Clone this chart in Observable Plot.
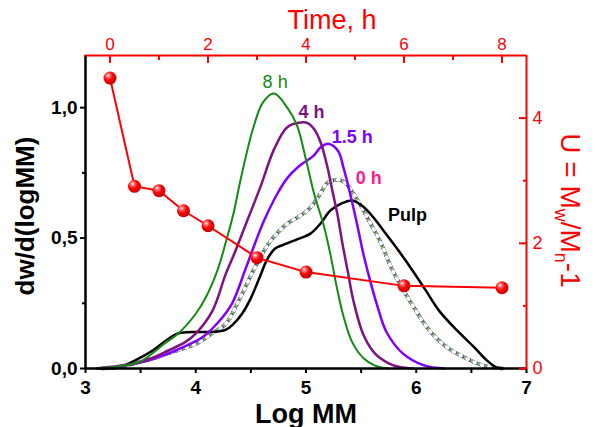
<!DOCTYPE html>
<html><head><meta charset="utf-8">
<script src="https://cdn.jsdelivr.net/npm/d3@7"></script>
<script src="https://cdn.jsdelivr.net/npm/@observablehq/plot@0.6"></script>
<style>
body{margin:0;background:#fff;}
#wrap{position:relative;width:596px;height:427px;font-family:"Liberation Sans",Arial,sans-serif;}
#wrap svg{position:absolute;left:0;top:0;}
</style></head><body><div id="wrap"></div>
<script>
// ---- distribution curves: Log MM vs dw/d(logMM)
const pulpMM = [3.12,3.30,3.45,3.61,3.73,3.84,4.00,4.15,4.27,4.34,4.42,4.50,4.58,4.65,4.72,4.80,4.95,5.04,5.13,5.22,5.31,5.42,5.52,5.61,5.70,5.79,5.91,6.07,6.21,6.37,6.52,6.64,6.73,6.78];
const pulpW  = [0,0.004,0.031,0.069,0.107,0.134,0.14,0.14,0.148,0.17,0.21,0.27,0.35,0.42,0.46,0.475,0.50,0.517,0.555,0.605,0.63,0.644,0.62,0.58,0.53,0.48,0.41,0.31,0.22,0.146,0.084,0.031,0.004,0];
const h0MM = [3.15,3.30,3.45,3.61,3.75,3.91,4.03,4.15,4.27,4.39,4.54,4.68,4.83,4.95,5.04,5.13,5.19,5.29,5.36,5.43,5.49,5.58,5.67,5.77,5.87,5.97,6.12,6.27,6.43,6.61,6.78];
const h0W  = [0,0.005,0.02,0.038,0.058,0.08,0.10,0.135,0.17,0.26,0.39,0.49,0.555,0.586,0.617,0.67,0.71,0.724,0.71,0.67,0.63,0.56,0.49,0.39,0.31,0.24,0.146,0.084,0.044,0.011,0];
const h15MM = [3.12,3.30,3.45,3.60,3.75,3.90,4.06,4.21,4.33,4.45,4.52,4.62,4.74,4.83,4.95,5.07,5.13,5.20,5.29,5.34,5.40,5.46,5.52,5.58,5.64,5.73,5.88,6.07,6.26];
const h15W  = [0,0.006,0.019,0.035,0.057,0.085,0.12,0.18,0.25,0.38,0.46,0.567,0.67,0.73,0.78,0.816,0.847,0.862,0.835,0.77,0.67,0.56,0.44,0.34,0.25,0.14,0.057,0.012,0];
const h4MM = [3.10,3.18,3.30,3.45,3.60,3.75,3.90,4.00,4.15,4.27,4.34,4.47,4.59,4.71,4.83,4.95,5.02,5.07,5.13,5.19,5.24,5.29,5.33,5.38,5.43,5.52,5.62,5.75,5.85,5.97];
const h4W  = [0,0.004,0.01,0.019,0.04,0.069,0.10,0.134,0.22,0.36,0.43,0.57,0.70,0.84,0.925,0.943,0.94,0.92,0.87,0.78,0.68,0.58,0.48,0.37,0.26,0.13,0.06,0.02,0.006,0];
const h8MM = [3.10,3.30,3.50,3.73,3.83,4.00,4.10,4.20,4.27,4.34,4.41,4.52,4.61,4.71,4.83,4.92,5.00,5.08,5.16,5.22,5.28,5.34,5.42,5.52,5.62,5.75];
const h8W  = [0,0.008,0.027,0.10,0.13,0.21,0.28,0.38,0.48,0.59,0.73,0.92,1.02,1.054,1.0,0.93,0.80,0.66,0.55,0.44,0.31,0.20,0.10,0.04,0.012,0];

// curve labels
const curveLabels = ["8 h","4 h","1.5 h","0 h","Pulp"];
const labelMM = [4.72,5.05,5.42,5.57,5.92];
const labelW  = [1.096,0.981,0.885,0.728,0.586];
const labelColors = ["#138a13","#7d1283","#8000ff","#ff1a8c","#000000"];
const labelBold = [false,true,true,true,true];

// ---- polydispersity vs time
const timeH = [0,0.5,1,1.5,2,3,4,6,8];
const uVals = [4.64,2.91,2.84,2.52,2.28,1.77,1.54,1.32,1.29];

// ticks
const mmTicks = [3,4,5,6,7], mmMinor = [3.5,4.5,5.5,6.5];
const wTicks = [0,0.5,1.0], wMinor = [0.25,0.75];
const tTicks = [0,2,4,6,8], tMinor = [1,3,5,7];
const uTicks = [0,2,4], uMinor = [1,3];

const W = 596, H = 427;
const margins = {marginTop: 55, marginRight: 70, marginBottom: 59, marginLeft: 85};
const font = "Liberation Sans, Arial, sans-serif";
const toRows = (xs, ys) => xs.map((x, i) => ({x, y: ys[i]}));
const fmtComma = d => d3.format(".1f")(d).replace(".", ",");

const pulp = toRows(pulpMM, pulpW), h0 = toRows(h0MM, h0W), h15 = toRows(h15MM, h15W), h4 = toRows(h4MM, h4W), h8 = toRows(h8MM, h8W);
const labels = curveLabels.map((t, i) => ({t, x: labelMM[i], y: labelW[i], c: labelColors[i], b: labelBold[i]}));
const curve = "catmull-rom";
const dotColors = ["#111111","#e0309a","#1ea0d0","#c8c020","#3050a0","#ffffff"];

const chart1 = Plot.plot({
  width: W, height: H, ...margins,
  style: {fontFamily: font, background: "transparent", overflow: "visible"},
  x: {domain: [3, 7]},
  y: {domain: [0, 1.2]},
  marks: [
    Plot.line(h0, {x: "x", y: "y", stroke: "#b8b8b8", strokeWidth: 3.5, curve}),
    ...dotColors.map((c, k) => Plot.line(h0, {x: "x", y: "y", stroke: c, strokeWidth: 3.5, strokeDasharray: "1.3,6.5", strokeDashoffset: k * 1.3, curve})),
    Plot.line(pulp, {x: "x", y: "y", stroke: "#000", strokeWidth: 2.5, curve}),
    Plot.line(h15, {x: "x", y: "y", stroke: "#8000ff", strokeWidth: 2.5, curve}),
    Plot.line(h4, {x: "x", y: "y", stroke: "#7d1283", strokeWidth: 2.5, curve}),
    Plot.line(h8, {x: "x", y: "y", stroke: "#138a13", strokeWidth: 2, curve}),
    Plot.text(labels.filter(d => !d.b), {x: "x", y: "y", text: "t", fill: "c", fontSize: 18, lineAnchor: "middle"}),
    Plot.text(labels.filter(d => d.b), {x: "x", y: "y", text: "t", fill: "c", fontSize: 18, fontWeight: "bold", lineAnchor: "middle"}),
    Plot.ruleX([3], {stroke: "#000", strokeWidth: 2.5}),
    Plot.ruleY([0], {stroke: "#000", strokeWidth: 2.5}),
    Plot.axisX(mmTicks, {label: null, tickSize: 5, tickPadding: 7, fontSize: 19, fontWeight: "bold", strokeWidth: 2, tickFormat: d3.format("d"), fill: "#000"}),
    Plot.axisX(mmMinor, {label: null, tickSize: 5, strokeWidth: 2, tickFormat: () => ""}),
    Plot.axisY(wTicks, {label: null, tickSize: 5, tickPadding: 3, fontSize: 19, fontWeight: "bold", strokeWidth: 2, tickFormat: fmtComma, fill: "#000"}),
    Plot.axisY(wMinor, {label: null, tickSize: 3, strokeWidth: 2, tickFormat: () => ""}),
    Plot.text(["Log MM"], {frameAnchor: "bottom", dy: 54, lineAnchor: "bottom", textAnchor: "middle", fontSize: 27, fontWeight: "bold", fill: "#000"}),
    Plot.text(["dw/d(logMM)"], {frameAnchor: "left", dx: -52, dy: 4, rotate: -90, textAnchor: "middle", lineAnchor: "bottom", fontSize: 26, fontWeight: "bold", fill: "#000"})
  ]
});

const uRows = timeH.map((t, i) => ({t, u: uVals[i]}));
const chart2 = Plot.plot({
  width: W, height: H, ...margins,
  style: {fontFamily: font, background: "transparent", overflow: "visible"},
  x: {domain: [-0.5, 8.5]},
  y: {domain: [0, 5]},
  marks: [
    Plot.ruleX([8.5], {stroke: "red", strokeWidth: 2}),
    Plot.ruleY([5], {stroke: "red", strokeWidth: 2}),
    Plot.axisX(tTicks, {label: null, anchor: "top", tickSize: -7, tickPadding: 13, fontSize: 17, color: "red", strokeWidth: 2, tickFormat: d3.format("d")}),
    Plot.axisX(tMinor, {label: null, anchor: "top", tickSize: -4, color: "red", strokeWidth: 2, tickFormat: () => ""}),
    Plot.axisY(uTicks, {label: null, anchor: "right", tickSize: -8, tickPadding: 14, fontSize: 18, color: "red", strokeWidth: 2, tickFormat: d3.format("d")}),
    Plot.axisY(uMinor, {label: null, anchor: "right", tickSize: -4, color: "red", strokeWidth: 2, tickFormat: () => ""}),
    Plot.line(uRows, {x: "t", y: "u", stroke: "red", strokeWidth: 2}),
    Plot.dot(uRows, {x: "t", y: "u", r: 6.5, fill: "url(#ball)", stroke: "none"}),
    Plot.text(["Time, h"], {frameAnchor: "top", dx: 26, dy: -27, lineAnchor: "bottom", textAnchor: "middle", fontSize: 27, fill: "red"}),
    Plot.text(["U = Mw/Mn-1"], {frameAnchor: "right", dx: 34, dy: -1.5, rotate: 90, textAnchor: "middle", lineAnchor: "bottom", fontSize: 28, fill: "red"})
  ]
});

// sphere shading for the markers
const s2 = d3.select(chart2);
const grad = s2.insert("defs", ":first-child").append("radialGradient").attr("id", "ball")
  .attr("cx", "38%").attr("cy", "35%").attr("r", "65%").attr("fx", "35%").attr("fy", "30%");
grad.append("stop").attr("offset", "0%").attr("stop-color", "#ffffff");
grad.append("stop").attr("offset", "22%").attr("stop-color", "#ff7070");
grad.append("stop").attr("offset", "55%").attr("stop-color", "#ff0000");
grad.append("stop").attr("offset", "100%").attr("stop-color", "#c40000");

// subscripts in the right axis title
s2.selectAll("text").filter(function() { return this.textContent === "U = Mw/Mn-1"; }).each(function() {
  const t = d3.select(this);
  t.text(null);
  t.append("tspan").text("U = M");
  t.append("tspan").attr("font-size", 18).attr("dy", 6).text("w");
  t.append("tspan").attr("dy", -6).text("/M");
  t.append("tspan").attr("font-size", 18).attr("dy", 6).text("n");
  t.append("tspan").attr("dy", -6).text("-1");
});

const wrap = document.getElementById("wrap");
wrap.appendChild(chart1);
wrap.appendChild(chart2);
</script>
</body></html>
